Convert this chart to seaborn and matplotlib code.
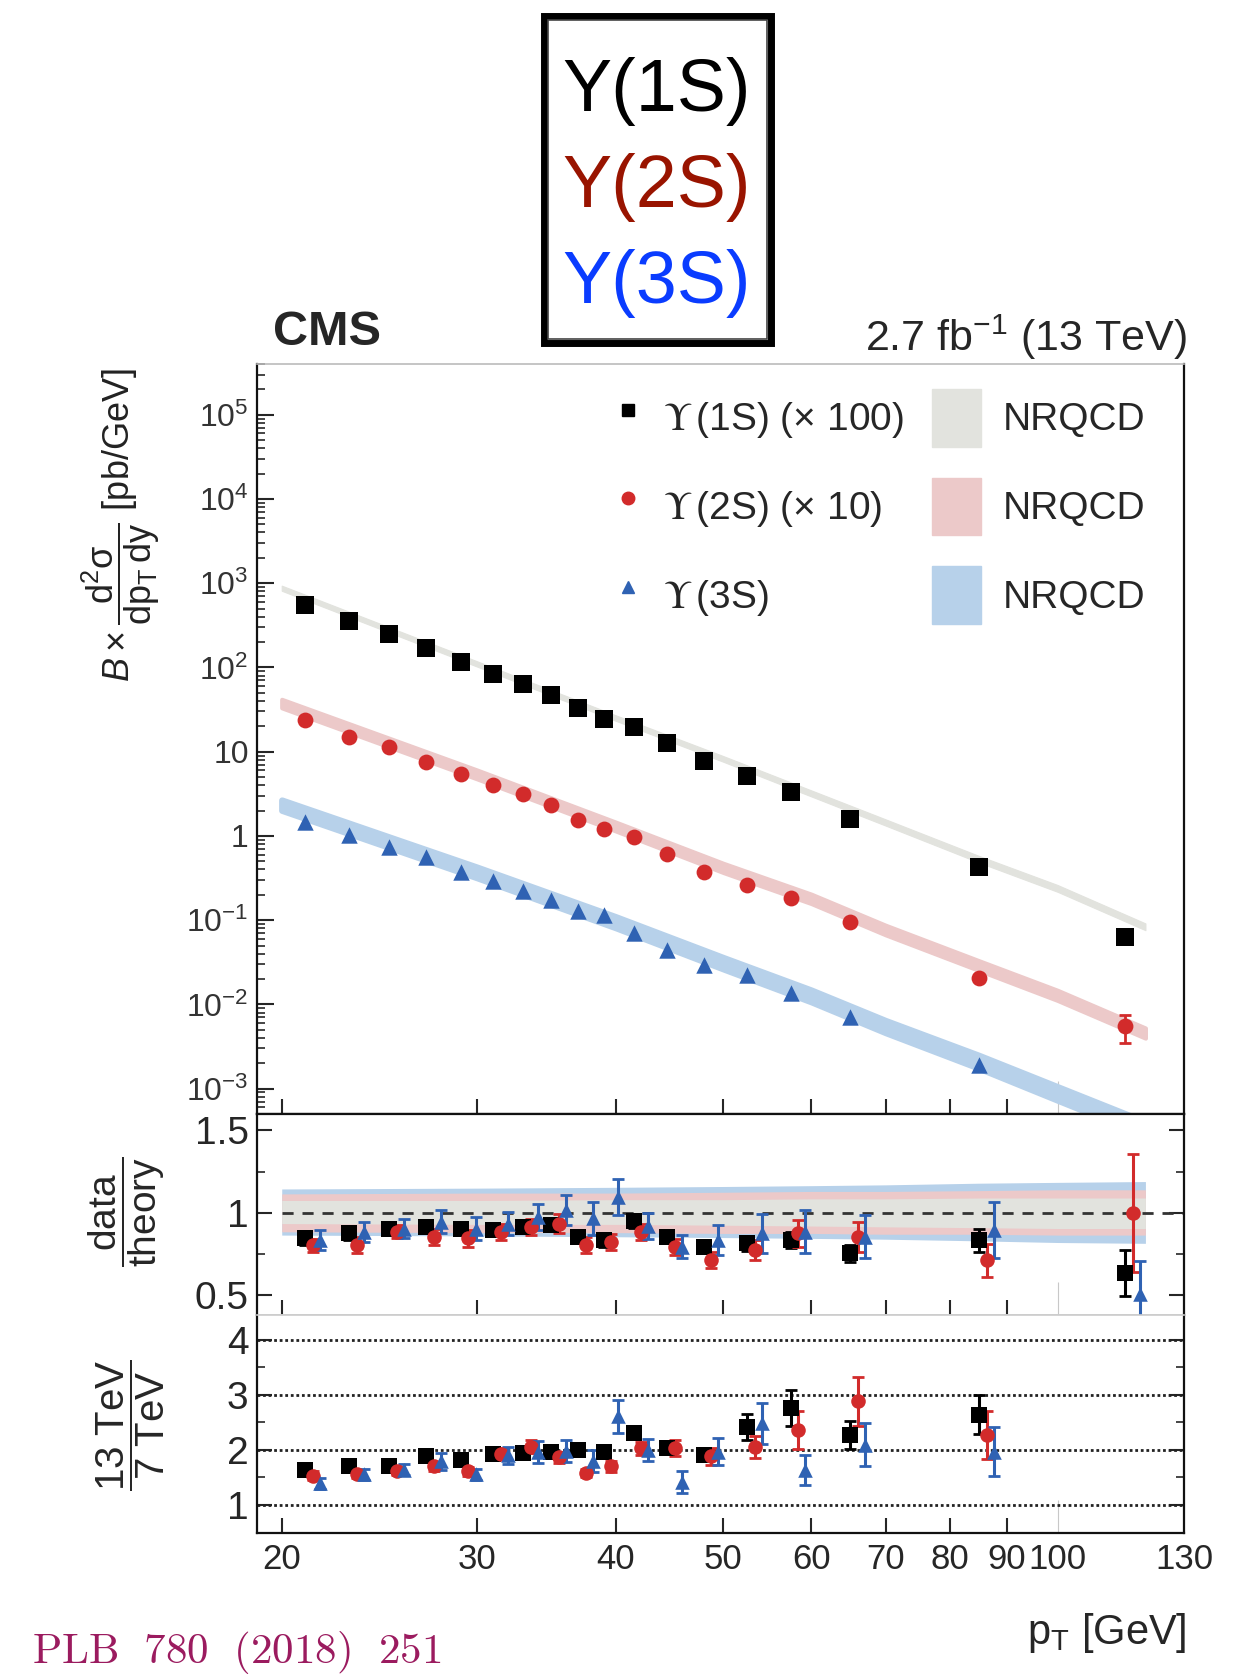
import numpy as np
import pandas as pd
import matplotlib
matplotlib.use("Agg")
import matplotlib.pyplot as plt
import seaborn as sns
from matplotlib.lines import Line2D
from matplotlib.patches import Patch, Rectangle
from matplotlib.font_manager import FontProperties
from matplotlib import ticker

# ---------------- data ----------------
pt_bins = [21, 23, 25, 27, 29, 31, 33, 35, 37, 39, 41.5, 44.5, 48, 52.5, 57.5, 65, 85, 115]

# main panel cross sections (1S x100, 2S x10, 3S x1)
xs_1s = [550, 358, 247, 171, 117, 83.5, 64.1, 46.7, 32.7, 24.6, 19.6, 12.6, 7.76, 5.15, 3.30, 1.59, 0.432, 0.0639]
xs_2s = [23.8, 15.1, 11.5, 7.61, 5.37, 4.03, 3.18, 2.33, 1.55, 1.21, 0.98, 0.61, 0.377, 0.262, 0.185, 0.096, 0.0205, 0.00547]
xs_3s = [1.48, 1.03, 0.747, 0.559, 0.377, 0.292, 0.224, 0.174, 0.130, 0.116, 0.0713, 0.0444, 0.0295, 0.0225, 0.0138, 0.0070, 0.00192]

# NRQCD theory (band centre) and relative band edges
th_pt = [20, 30, 40, 50, 60, 70, 85, 100, 120]
th_1s = [870, 110, 25, 8.2, 3.2, 1.45, 0.53, 0.24, 0.084]
th_2s = [37.5, 5.4, 1.3, 0.42, 0.18, 0.077, 0.029, 0.0129, 0.0046]
th_3s = [2.33, 0.37, 0.095, 0.031, 0.0127, 0.0055, 0.0021, 0.00089, 0.00034]
unc_1s_up = [1.075, 1.075, 1.08, 1.08, 1.085, 1.085, 1.09, 1.09, 1.09]
unc_1s_dn = [0.935, 0.93, 0.93, 0.925, 0.92, 0.915, 0.91, 0.905, 0.905]
unc_2s_up = [1.115, 1.12, 1.12, 1.125, 1.13, 1.13, 1.135, 1.14, 1.14]
unc_2s_dn = [0.885, 0.88, 0.88, 0.875, 0.875, 0.87, 0.87, 0.865, 0.865]
unc_3s_up = [1.145, 1.15, 1.155, 1.16, 1.165, 1.17, 1.18, 1.185, 1.19]
unc_3s_dn = [0.865, 0.86, 0.855, 0.85, 0.845, 0.84, 0.83, 0.82, 0.815]

# data / theory
r1_1s = [0.845, 0.875, 0.905, 0.915, 0.905, 0.895, 0.915, 0.925, 0.855, 0.834, 0.95, 0.855, 0.794, 0.814, 0.834, 0.754, 0.834, 0.636]
e1_1s = [0.04, 0.04, 0.035, 0.04, 0.035, 0.035, 0.035, 0.035, 0.04, 0.04, 0.04, 0.04, 0.04, 0.045, 0.05, 0.05, 0.07, 0.14]
r1_2s = [0.804, 0.804, 0.885, 0.855, 0.845, 0.885, 0.915, 0.935, 0.804, 0.824, 0.885, 0.794, 0.713, 0.774, 0.875, 0.855, 0.713, 1.0]
e1_2s = [0.04, 0.05, 0.04, 0.05, 0.05, 0.05, 0.05, 0.06, 0.05, 0.05, 0.05, 0.05, 0.05, 0.06, 0.08, 0.09, 0.1, 0.36]
r1_3s = [0.834, 0.885, 0.905, 0.945, 0.905, 0.935, 0.976, 1.016, 0.966, 1.097, 0.92, 0.794, 0.834, 0.875, 0.885, 0.855, 0.895, 0.51]
e1_3s = [0.06, 0.06, 0.06, 0.07, 0.07, 0.07, 0.08, 0.09, 0.1, 0.11, 0.08, 0.07, 0.09, 0.12, 0.13, 0.13, 0.17, 0.2]

# 13 TeV / 7 TeV
r2_1s = [1.64, 1.70, 1.70, 1.88, 1.82, 1.92, 1.94, 1.97, 1.99, 1.97, 2.30, 2.03, 1.91, 2.42, 2.76, 2.27, 2.64]
e2_1s = [0.07, 0.06, 0.06, 0.07, 0.07, 0.07, 0.08, 0.08, 0.08, 0.09, 0.1, 0.1, 0.1, 0.24, 0.33, 0.26, 0.36]
r2_2s = [1.53, 1.56, 1.61, 1.70, 1.61, 1.93, 2.06, 1.87, 1.58, 1.70, 2.03, 2.03, 1.88, 2.06, 2.36, 2.88, 2.27]
e2_2s = [0.08, 0.07, 0.07, 0.08, 0.08, 0.1, 0.12, 0.1, 0.08, 0.1, 0.12, 0.15, 0.15, 0.2, 0.35, 0.45, 0.44]
r2_3s = [1.39, 1.56, 1.64, 1.79, 1.56, 1.90, 1.96, 1.98, 1.80, 2.61, 2.0, 1.42, 1.97, 2.48, 1.64, 2.09, 1.97]
e2_3s = [0.1, 0.1, 0.1, 0.15, 0.1, 0.15, 0.2, 0.2, 0.2, 0.3, 0.2, 0.2, 0.25, 0.38, 0.27, 0.39, 0.45]

x_ticks = [20, 30, 40, 50, 60, 70, 80, 90, 100, 130]
x_ticklabels = ["20", "30", "40", "50", "60", "70", "80", "90", "100", "130"]

# ---------------- style ----------------
sns.set_theme(style="ticks")
plt.rcParams["font.family"] = ["Liberation Sans", "DejaVu Sans"]
plt.rcParams["mathtext.fontset"] = "custom"
plt.rcParams["mathtext.rm"] = "Liberation Sans"
plt.rcParams["mathtext.sf"] = "Liberation Sans"
plt.rcParams["mathtext.it"] = "Liberation Sans:italic"
plt.rcParams["mathtext.bf"] = "Liberation Sans:bold"

C1, C2, C3 = "#000000", "#d22b2b", "#2f62b3"
B1, B2, B3 = "#e2e3de", "#ecc9c9", "#b7d1ea"
OFF2, OFF3 = 1.016, 1.031

FW, FH = 1250, 1680
fig = plt.figure(figsize=(12.5, 16.8), dpi=100)
L, W = 257 / FW, 927 / FW


def rect(top, bottom):
    return [L, 1 - bottom / FH, W, (bottom - top) / FH]


ax0 = fig.add_axes(rect(364, 1114))
ax1 = fig.add_axes(rect(1114, 1315))
ax2 = fig.add_axes(rect(1315, 1533))

thp = np.array(th_pt)

# ---------------- main panel ----------------
for th, up, dn, col, lw in [(th_3s, unc_3s_up, unc_3s_dn, B3, 4.5),
                            (th_2s, unc_2s_up, unc_2s_dn, B2, 3.0),
                            (th_1s, unc_1s_up, unc_1s_dn, B1, 0.8)]:
    th = np.array(th)
    ax0.fill_between(thp, th * np.array(dn), th * np.array(up), color=col,
                     edgecolor=col, lw=lw, zorder=1)

n3 = len(xs_3s)
df_main = pd.concat([
    pd.DataFrame({"pt": pt_bins, "val": xs_1s, "r": r1_1s, "e": e1_1s, "state": "1S"}),
    pd.DataFrame({"pt": pt_bins, "val": xs_2s, "r": r1_2s, "e": e1_2s, "state": "2S"}),
    pd.DataFrame({"pt": pt_bins[:n3], "val": xs_3s, "r": r1_3s[:n3],
                  "e": e1_3s[:n3], "state": "3S"}),
])
df_main["rel"] = df_main["e"] / df_main["r"]
df_main["err"] = df_main["val"] * df_main["rel"]

styles = {"1S": ("s", C1, 150), "2S": ("o", C2, 130), "3S": ("^", C3, 140)}
for st, (mk, col, sz) in styles.items():
    d = df_main[df_main["state"] == st]
    big = d[d["rel"] > 0.25]          # smaller errors are hidden by the markers
    if len(big):
        ax0.errorbar(big["pt"], big["val"], yerr=big["err"], fmt="none", ecolor=col,
                     elinewidth=2, capsize=4, capthick=2, zorder=3)
    sns.scatterplot(data=d, x="pt", y="val", marker=mk, color=col, s=sz,
                    linewidth=0, ax=ax0, zorder=4, legend=False)

ax0.set_xscale("log")
ax0.set_yscale("log")
ax0.set_xlim(19, 130)
ax0.set_ylim(5.0e-4, 4.0e5)


def yfmt(v, pos):
    e = int(round(np.log10(v)))
    if e == 0:
        return "1"
    if e == 1:
        return "10"
    return r"$\mathdefault{10^{%d}}$" % e


ax0.yaxis.set_major_locator(ticker.FixedLocator([10.0 ** k for k in range(-3, 6)]))
ax0.yaxis.set_major_formatter(ticker.FuncFormatter(yfmt))
ax0.yaxis.set_minor_locator(ticker.LogLocator(base=10, subs=np.arange(2, 10), numticks=30))
ax0.yaxis.set_minor_formatter(ticker.NullFormatter())
ax0.tick_params(axis="y", which="major", direction="in", length=12, width=1.5,
                labelsize=23, labelcolor="#333333", pad=6, right=False)
ax0.tick_params(axis="y", which="minor", direction="in", length=6, width=1.2, right=False)
ax0.set_ylabel(r"$B\times\dfrac{\mathrm{d^{2}\sigma}}{\mathrm{dp_{T}\,dy}}$ [pb/GeV]",
               fontsize=26, color="#222222")
ax0.yaxis.set_label_coords(162 / FW, 1 - 525 / FH, transform=fig.transFigure)

# legends
fp = FontProperties(family="Liberation Sans", size=28, math_fontfamily="stix")
mh = [Line2D([], [], ls="none", marker="s", color=C1, markersize=9),
      Line2D([], [], ls="none", marker="o", color=C2, markersize=9),
      Line2D([], [], ls="none", marker="^", color=C3, markersize=9)]
leg_kw = dict(loc="upper left", bbox_transform=fig.transFigure, frameon=False,
              handleheight=1.9, labelspacing=0.8, borderpad=0, borderaxespad=0)
leg1 = ax0.legend(handles=mh,
                  labels=[r"$\Upsilon\,$(1S) (× 100)", r"$\Upsilon\,$(2S) (× 10)", r"$\Upsilon\,$(3S)"],
                  bbox_to_anchor=(612 / FW, 1 - 389 / FH), prop=fp,
                  handlelength=0.8, handletextpad=0.5, **leg_kw)
ax0.add_artist(leg1)
ph = [Patch(facecolor=B1, edgecolor=B1), Patch(facecolor=B2, edgecolor=B2),
      Patch(facecolor=B3, edgecolor=B3)]
ax0.legend(handles=ph, labels=["NRQCD"] * 3,
           bbox_to_anchor=(932 / FW, 1 - 389 / FH),
           prop=FontProperties(family="Liberation Sans", size=28),
           handlelength=1.25, handletextpad=0.56, **leg_kw)

# ---------------- ratio panel 1: data/theory ----------------
for up, dn, col in [(unc_3s_up, unc_3s_dn, B3), (unc_2s_up, unc_2s_dn, B2),
                    (unc_1s_up, unc_1s_dn, B1)]:
    ax1.fill_between(thp, dn, up, color=col, lw=0, zorder=1)
ax1.hlines(1.0, 20, 130, colors="#333333", linestyles=(0, (4, 3.2)), lw=2, zorder=2)

df_r1 = pd.concat([
    pd.DataFrame({"pt": pt_bins, "r": r1_1s, "e": e1_1s, "state": "1S"}),
    pd.DataFrame({"pt": np.array(pt_bins) * OFF2, "r": r1_2s, "e": e1_2s, "state": "2S"}),
    pd.DataFrame({"pt": np.array(pt_bins) * OFF3, "r": r1_3s, "e": e1_3s, "state": "3S"}),
])
df_r2 = pd.concat([
    pd.DataFrame({"pt": pt_bins[:17], "r": r2_1s, "e": e2_1s, "state": "1S"}),
    pd.DataFrame({"pt": np.array(pt_bins[:17]) * OFF2, "r": r2_2s, "e": e2_2s, "state": "2S"}),
    pd.DataFrame({"pt": np.array(pt_bins[:17]) * OFF3, "r": r2_3s, "e": e2_3s, "state": "3S"}),
])
rstyles = {"1S": ("s", C1, 120), "2S": ("o", C2, 110), "3S": ("^", C3, 110)}
for ax, df in [(ax1, df_r1), (ax2, df_r2)]:
    for st, (mk, col, sz) in rstyles.items():
        d = df[df["state"] == st]
        ax.errorbar(d["pt"], d["r"], yerr=d["e"], fmt="none", ecolor=col, elinewidth=2.2,
                    capsize=4, capthick=2, zorder=3)
        sns.scatterplot(data=d, x="pt", y="r", marker=mk, color=col, s=sz,
                        linewidth=0, ax=ax, zorder=4, legend=False)

ax1.set_xscale("log")
ax1.set_xlim(19, 130)
ax1.set_ylim(0.38, 1.6)
ax1.yaxis.set_major_locator(ticker.FixedLocator([0.5, 1.0, 1.5]))
ax1.yaxis.set_major_formatter(ticker.FixedFormatter(["0.5", "1", "1.5"]))
ax1.yaxis.set_minor_locator(ticker.FixedLocator([0.75, 1.25]))
ax1.set_ylabel(r"$\dfrac{\mathrm{data}}{\mathrm{theory}}$", fontsize=28)
ax1.yaxis.set_label_coords(167 / FW, 1 - 1212 / FH, transform=fig.transFigure)

# ---------------- ratio panel 2: 13/7 TeV ----------------
ax2.hlines([1, 2, 3, 4], 19, 130, colors="#222222", linestyles=(0, (1, 1)), lw=2, zorder=1)
ax2.set_xscale("log")
ax2.set_xlim(19, 130)
ax2.set_ylim(0.49, 4.45)
ax2.yaxis.set_major_locator(ticker.FixedLocator([1, 2, 3, 4]))
ax2.yaxis.set_major_formatter(ticker.FixedFormatter(["1", "2", "3", "4"]))
ax2.yaxis.set_minor_locator(ticker.FixedLocator([1.5, 2.5, 3.5]))
ax2.set_ylabel(r"$\dfrac{\mathrm{13\ TeV}}{\mathrm{7\ TeV}}$", fontsize=29)
ax2.yaxis.set_label_coords(167 / FW, 1 - 1425 / FH, transform=fig.transFigure)

for ax in (ax1, ax2):
    ax.tick_params(axis="y", which="major", direction="in", length=11, width=1.5,
                   labelsize=28, pad=6, left=True, right=True)
    ax.tick_params(axis="y", which="minor", direction="in", length=6, width=1.2,
                   left=True, right=True)

# common x axis setup
for ax in (ax0, ax1, ax2):
    ax.xaxis.set_major_locator(ticker.FixedLocator(x_ticks))
    ax.xaxis.set_minor_locator(ticker.NullLocator())
    ax.tick_params(axis="x", which="major", direction="in", length=11, width=1.5,
                   top=False, bottom=True, labelsize=25, pad=7)
    if ax is ax2:
        ax.xaxis.set_major_formatter(ticker.FixedFormatter(x_ticklabels))
    else:
        ax.xaxis.set_major_formatter(ticker.NullFormatter())
        ax.set_xlabel("")
    for t, v in zip(ax.xaxis.get_major_ticks(), x_ticks):
        if v == 100:
            t.tick1line.set_markeredgecolor("#c8c8c8")
            t.tick1line.set_markeredgewidth(0.8)
            t.tick1line.set_markersize(24)
        if v == 130:
            t.tick1line.set_visible(False)
    for s in ax.spines.values():
        s.set_linewidth(1.6)
        s.set_color("#111111")
    ax.set_facecolor("white")
    ax.grid(False)

ax0.spines["top"].set_color("#bbbbbb")
ax0.spines["top"].set_linewidth(1.2)
ax1.spines["bottom"].set_color("#cccccc")
ax1.spines["bottom"].set_linewidth(1.2)
ax2.spines["top"].set_color("#cccccc")
ax2.spines["top"].set_linewidth(1.2)

ax2.set_xlabel(r"p$_{\mathrm{T}}$ [GeV]", fontsize=30)
ax2.xaxis.set_label_coords(1187 / FW, 1 - 1633 / FH, transform=fig.transFigure)
ax2.xaxis.label.set_horizontalalignment("right")
ax2.xaxis.label.set_verticalalignment("center")

# ---------------- header texts ----------------
fig.text(273 / FW, 1 - 345 / FH, "CMS", fontsize=35, fontweight="bold", ha="left", va="baseline")
fig.text(1187 / FW, 1 - 351 / FH, r"2.7 fb$^{\mathdefault{-1}}$ (13 TeV)", fontsize=31,
         ha="right", va="baseline")

fig.patches.append(Rectangle((544 / FW, 1 - 343 / FH), 227 / FW, 327 / FH,
                             transform=fig.transFigure, fill=False, lw=5, ec="black"))
fig.patches.append(Rectangle((548 / FW, 1 - 339 / FH), 219 / FW, 319 / FH,
                             transform=fig.transFigure, fill=False, lw=1.2, ec="#444444"))
for label, yc, col in [("Υ(1S)", 91, "#000000"), ("Υ(2S)", 188, "#991400"),
                       ("Υ(3S)", 283, "#0a3cff")]:
    fig.text(657 / FW, 1 - yc / FH, label, fontsize=53, color=col, ha="center", va="center")

fig.text(32 / FW, 1 - 1663 / FH, r"$\mathrm{PLB\ \ 780\ \ (2018)\ \ 251}$", fontsize=31,
         color="#9b1b5f", ha="left", va="baseline", math_fontfamily="cm")

fig.savefig("out.png", dpi=100, facecolor="white")
